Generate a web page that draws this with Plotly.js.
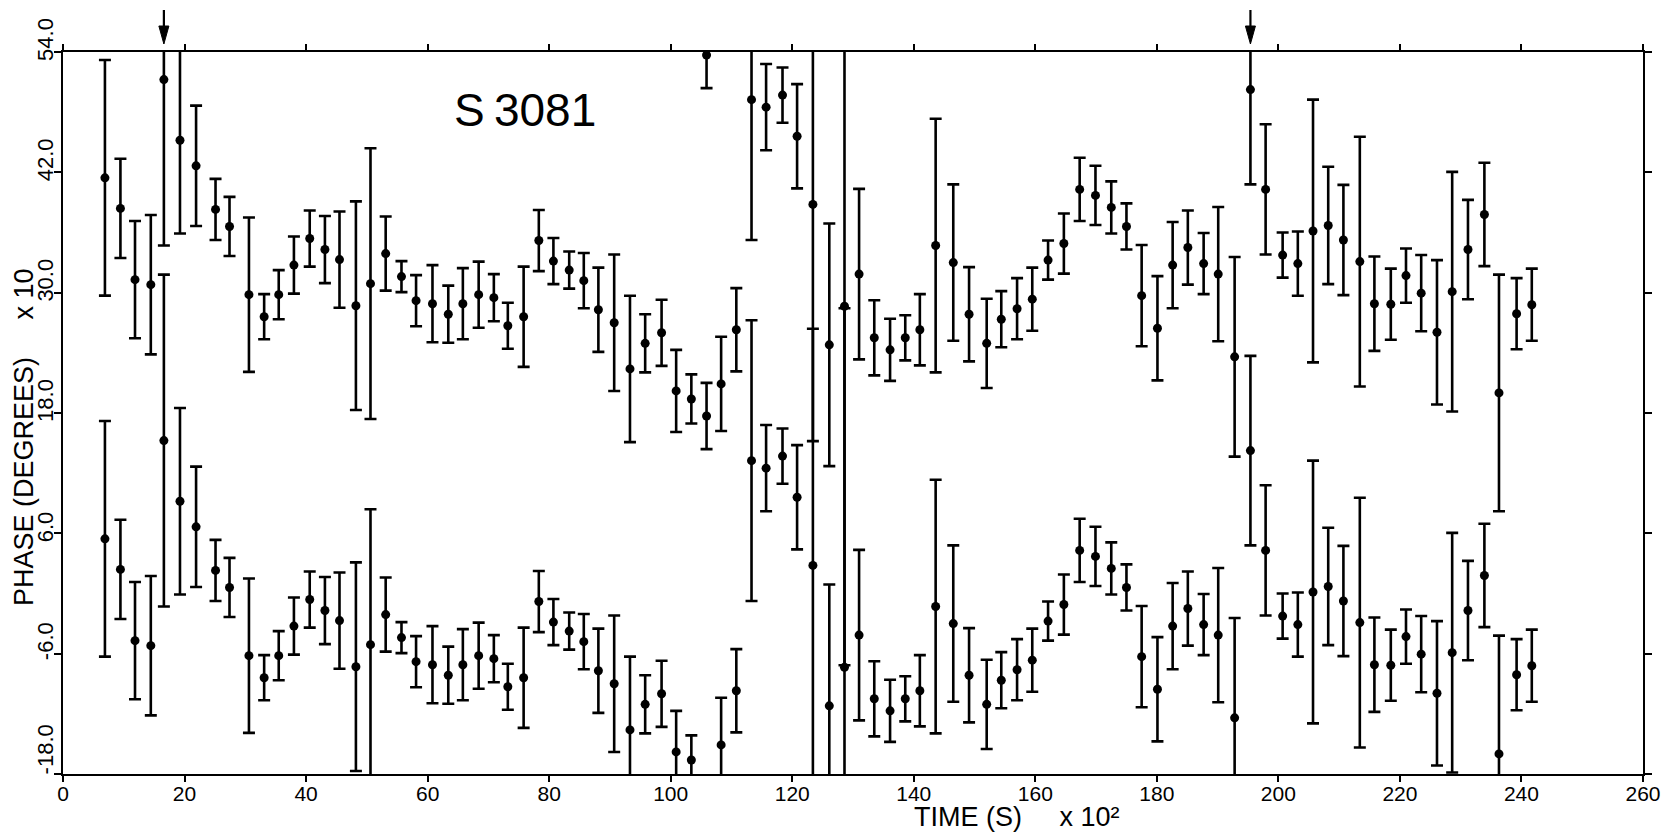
<!DOCTYPE html>
<html>
<head>
<meta charset="utf-8">
<script src="https://cdn.plot.ly/plotly-3.0.1.min.js"></script>
<style>
  html, body { margin: 0; padding: 0; background: #ffffff; }
  #chart { width: 1672px; height: 834px; }
</style>
</head>
<body>
<div id="chart"></div>
<script>
// ---- data (time in units of 100 s, phase in units of 10 degrees) ----
const timeX = [6.9, 9.45, 11.85, 14.45, 16.6, 19.25, 21.9, 25.1, 27.4, 30.6,
  33.1, 35.5, 38.0, 40.6, 43.1, 45.5, 48.2, 50.6, 53.1, 55.7,
  58.1, 60.8, 63.4, 65.8, 68.4, 70.9, 73.2, 75.8, 78.3, 80.7,
  83.3, 85.7, 88.1, 90.7, 93.3, 95.8, 98.5, 100.9, 103.4, 105.9,
  108.3, 110.8, 113.3, 115.7, 118.4, 120.8, 123.4, 126.1, 128.6, 131.0,
  133.5, 136.1, 138.6, 141.0, 143.6, 146.5, 149.1, 152.0, 154.4, 157.0,
  159.5, 162.1, 164.7, 167.3, 169.9, 172.5, 175.0, 177.5, 180.1, 182.6,
  185.1, 187.7, 190.1, 192.8, 195.4, 197.9, 200.7, 203.2, 205.7, 208.2,
  210.7, 213.4, 215.8, 218.5, 221.0, 223.5, 226.1, 228.6, 231.2, 233.9,
  236.3, 239.2, 241.7];

const phaseUpper = [41.45, 38.4, 31.3, 30.8, 51.25, 45.2, 42.65, 38.3, 36.6, 29.8,
  27.6, 29.8, 32.75, 35.4, 34.3, 33.3, 28.7, 30.9, 33.9, 31.6,
  29.2, 28.9, 27.85, 28.9, 29.8, 29.5, 26.7, 27.6, 35.2, 33.15,
  32.25, 31.2, 28.3, 27.0, 22.4, 24.95, 26.0, 20.2, 19.4, 53.7,
  20.9, 26.3, 49.25, 48.5, 49.7, 45.6, 38.8, 24.8, 28.65, 31.85,
  25.5, 24.3, 25.5, 26.3, 34.7, 33.0, 27.85, 24.95, 27.35, 28.4,
  29.35, 33.25, 34.9, 40.3, 39.7, 38.5, 36.6, 29.7, 26.45, 32.75,
  34.5, 32.9, 31.85, 23.6, 50.25, 40.3, 33.75, 32.9, 36.15, 36.7,
  35.25, 33.1, 28.9, 28.85, 31.7, 29.95, 26.05, 30.1, 34.3, 37.8,
  20.0, 27.9, 28.8];

const phaseLower = [5.45, 2.4, -4.7, -5.2, 15.25, 9.2, 6.65, 2.3, 0.6, -6.2,
  -8.4, -6.2, -3.25, -0.6, -1.7, -2.7, -7.3, -5.1, -2.1, -4.4,
  -6.8, -7.1, -8.15, -7.1, -6.2, -6.5, -9.3, -8.4, -0.8, -2.85,
  -3.75, -4.8, -7.7, -9.0, -13.6, -11.05, -10.0, -15.8, -16.6, 17.7,
  -15.1, -9.7, 13.25, 12.5, 13.7, 9.6, 2.8, -11.2, -7.35, -4.15,
  -10.5, -11.7, -10.5, -9.7, -1.3, -3.0, -8.15, -11.05, -8.65, -7.6,
  -6.65, -2.75, -1.1, 4.3, 3.7, 2.5, 0.6, -6.3, -9.55, -3.25,
  -1.5, -3.1, -4.15, -12.4, 14.25, 4.3, -2.25, -3.1, 0.15, 0.7,
  -0.75, -2.9, -7.1, -7.15, -4.3, -6.05, -9.95, -5.9, -1.7, 1.8,
  -16.0, -8.1, -7.2];

const phaseErr = [11.75, 4.95, 5.85, 6.95, 16.55, 9.3, 6.0, 3.05, 2.95, 7.7,
  2.25, 2.45, 2.85, 2.8, 3.35, 4.8, 10.4, 13.5, 3.7, 1.55,
  2.55, 3.85, 2.85, 3.55, 3.3, 2.35, 2.3, 5.0, 3.05, 2.3,
  1.85, 2.75, 4.2, 6.8, 7.3, 2.9, 3.3, 4.1, 2.45, 3.3,
  4.7, 4.15, 14.0, 4.3, 2.75, 5.2, 23.6, 12.1, 35.8, 8.5,
  3.75, 3.1, 2.25, 3.55, 12.65, 7.8, 4.7, 4.45, 2.8, 3.05,
  3.15, 1.95, 3.0, 3.15, 2.95, 2.6, 2.3, 5.05, 5.2, 4.3,
  3.7, 3.05, 6.7, 9.95, 9.45, 6.5, 2.25, 3.2, 13.1, 5.85,
  5.5, 12.45, 4.7, 3.55, 2.7, 3.8, 7.2, 11.95, 4.95, 5.15,
  11.8, 3.55, 3.6];

const xTickVals = [0, 20, 40, 60, 80, 100, 120, 140, 160, 180, 200, 220, 240, 260];
const xTickText = ['0', '20', '40', '60', '80', '100', '120', '140', '160', '180', '200', '220', '240', '260'];
const yTickVals = [-18, -6, 6, 18, 30, 42, 54];
const yTickText = ['-18.0', '-6.0', '6.0', '18.0', '30.0', '42.0', '54.0'];
const arrowTimes = [16.6, 195.4];
const sourceLabel = 'S\u20093081';
const labelTime = 76;
const labelPhase = 48.2;
const xTitle = 'TIME (S)';
const xScale = 'x 10\u00b2';
const yTitle = 'PHASE (DEGREES)';
const yScale = 'x 10';

// ---- drawing ----
const NB = '\u00a0';
const FONT = 'Liberation Sans, Arial, sans-serif';
const M = { l: 63, r: 29, t: 52, b: 60 };
const W = 1672, H = 834;
const plotW = W - M.l - M.r, plotH = H - M.t - M.b;
const pxToPaperX = px => (px - M.l) / plotW;
const pxToPaperY = py => 1 - (py - M.t) / plotH;
const xUnitsPerPx = 260 / plotW;

const errStyle = { type: 'data', visible: true, color: '#000', thickness: 2.6, width: 6 };
const markerStyle = { color: '#000', size: 9 };

const traces = [
  { x: timeX, y: phaseUpper, type: 'scatter', mode: 'markers', name: 'phase',
    marker: markerStyle, error_y: Object.assign({ array: phaseErr }, errStyle), hoverinfo: 'x+y' },
  { x: timeX, y: phaseLower, type: 'scatter', mode: 'markers', name: 'phase - 360',
    marker: markerStyle, error_y: Object.assign({ array: phaseErr }, errStyle), hoverinfo: 'x+y' }
];

const padByLen = { 3: 1, 4: 3, 5: 7 };
const yTickShown = yTickText.map(t => NB.repeat(padByLen[t.length] || 0) + t);

// arrows above the frame (shaft + filled head)
const shapes = [];
arrowTimes.forEach(t => {
  const hw = 5 * xUnitsPerPx;
  shapes.push({ type: 'line', xref: 'x', yref: 'paper', x0: t, x1: t,
    y0: pxToPaperY(30), y1: pxToPaperY(10), line: { color: '#000', width: 2.2 } });
  shapes.push({ type: 'path', xref: 'x', yref: 'paper',
    path: 'M ' + (t - hw) + ',' + pxToPaperY(26) + ' L ' + (t + hw) + ',' + pxToPaperY(26) +
          ' L ' + t + ',' + pxToPaperY(44) + ' Z',
    fillcolor: '#000', line: { color: '#000', width: 1 } });
});

const annotations = [
  { x: labelTime, xref: 'x', y: labelPhase, yref: 'y', text: sourceLabel, showarrow: false,
    font: { family: FONT, size: 46, color: '#000' }, xanchor: 'center', yanchor: 'middle' },
  { x: pxToPaperX(1017), xref: 'paper', y: pxToPaperY(833), yref: 'paper', yanchor: 'bottom', xanchor: 'center',
    text: xTitle + NB.repeat(5) + xScale, showarrow: false, borderpad: 0,
    font: { family: FONT, size: 27, color: '#000' } },
  { x: pxToPaperX(24), xref: 'paper', y: pxToPaperY(437), yref: 'paper', xanchor: 'center', yanchor: 'middle',
    text: yTitle + NB.repeat(5) + yScale, textangle: -90, showarrow: false, borderpad: 0,
    font: { family: FONT, size: 27, color: '#000' } }
];

const layout = {
  width: W, height: H,
  paper_bgcolor: '#ffffff', plot_bgcolor: '#ffffff',
  showlegend: false,
  font: { family: FONT, color: '#000' },
  margin: { l: M.l, r: M.r, t: M.t, b: M.b, pad: 0 },
  xaxis: {
    range: [0, 260], tickmode: 'array', tickvals: xTickVals, ticktext: xTickText,
    ticks: 'outside', ticklen: 6, tickwidth: 2, tickcolor: '#000', ticklabelstandoff: -6,
    showline: true, linewidth: 2, linecolor: '#000', mirror: 'ticks',
    showgrid: false, zeroline: false, automargin: false,
    tickfont: { family: FONT, size: 21, color: '#000' }
  },
  yaxis: {
    range: [-18, 54], tickmode: 'array', tickvals: yTickVals, ticktext: yTickShown,
    tickangle: -90,
    ticks: 'outside', ticklen: 7, tickwidth: 2, tickcolor: '#000', ticklabelstandoff: -8,
    showline: true, linewidth: 2, linecolor: '#000', mirror: 'ticks',
    showgrid: false, zeroline: false, automargin: false,
    tickfont: { family: FONT, size: 22, color: '#000' }
  },
  shapes: shapes,
  annotations: annotations
};

Plotly.newPlot('chart', traces, layout, { displayModeBar: false, staticPlot: true });
</script>
</body>
</html>
